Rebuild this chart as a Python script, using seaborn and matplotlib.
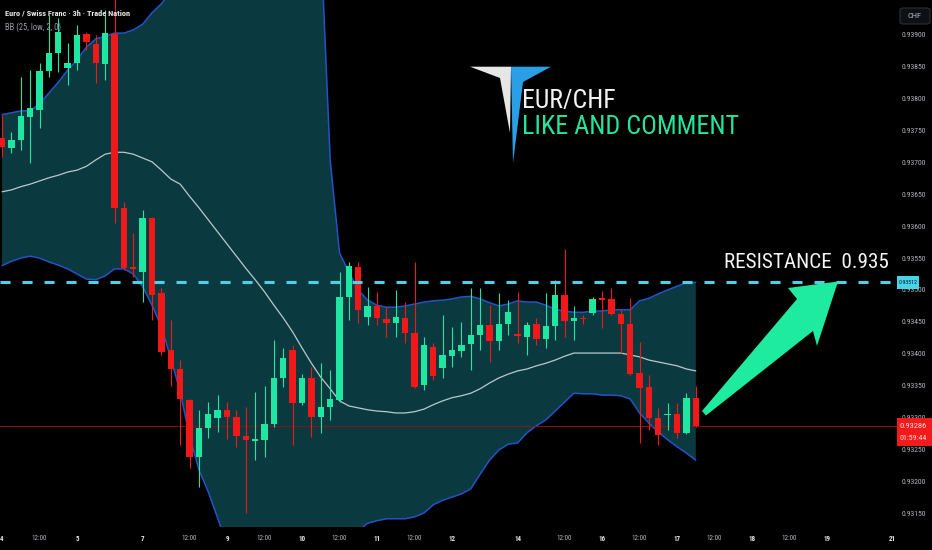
import numpy as np
import pandas as pd
import matplotlib
matplotlib.use("Agg")
import matplotlib.pyplot as plt
import seaborn as sns
from matplotlib import font_manager as fm
from matplotlib.patches import Polygon, Rectangle, FancyBboxPatch

# ---------------- data ----------------
opens = [0.93738, 0.93723, 0.93735, 0.93771, 0.93782, 0.93844, 0.93872, 0.93848, 0.93856, 0.93902,
         0.93886, 0.93855, 0.93902, 0.93629, 0.93536, 0.93528, 0.93613, 0.93495, 0.93406, 0.93376,
         0.93327, 0.93238, 0.93283, 0.93299, 0.93312, 0.93301, 0.93271, 0.93263, 0.93265, 0.93290,
         0.93362, 0.93406, 0.93323, 0.93362, 0.93301, 0.93316, 0.93327, 0.93489, 0.93536, 0.93458,
         0.93475, 0.93454, 0.93448, 0.93456, 0.93432, 0.93351, 0.93410, 0.93378, 0.93396, 0.93404,
         0.93415, 0.93429, 0.93445, 0.93420, 0.93447, 0.93431, 0.93426, 0.93447, 0.93423, 0.93443,
         0.93492, 0.93451, 0.93456, 0.93464, 0.93487, 0.93486, 0.93462, 0.93447, 0.93370, 0.93348,
         0.93299, 0.93304, 0.93305, 0.93276, 0.93330]
highs = [0.93774, 0.93748, 0.93834, 0.93845, 0.93856, 0.93931, 0.93927, 0.93887, 0.93916, 0.93905,
         0.93900, 0.93939, 0.93960, 0.93638, 0.93589, 0.93625, 0.93615, 0.93503, 0.93453, 0.93390,
         0.93329, 0.93312, 0.93324, 0.93335, 0.93324, 0.93312, 0.93316, 0.93340, 0.93349, 0.93421,
         0.93409, 0.93414, 0.93368, 0.93379, 0.93385, 0.93374, 0.93528, 0.93544, 0.93544, 0.93505,
         0.93497, 0.93473, 0.93500, 0.93481, 0.93544, 0.93426, 0.93417, 0.93461, 0.93442, 0.93450,
         0.93503, 0.93503, 0.93476, 0.93495, 0.93484, 0.93497, 0.93450, 0.93456, 0.93495, 0.93516,
         0.93564, 0.93475, 0.93461, 0.93489, 0.93498, 0.93503, 0.93469, 0.93487, 0.93418, 0.93367,
         0.93315, 0.93323, 0.93323, 0.93338, 0.93349]
lows = [0.93709, 0.93715, 0.93720, 0.93699, 0.93754, 0.93834, 0.93842, 0.93822, 0.93845, 0.93876,
        0.93825, 0.93829, 0.93605, 0.93531, 0.93520, 0.93481, 0.93453, 0.93398, 0.93349, 0.93257,
        0.93221, 0.93191, 0.93268, 0.93277, 0.93266, 0.93254, 0.93150, 0.93233, 0.93238, 0.93285,
        0.93348, 0.93257, 0.93320, 0.93269, 0.93276, 0.93296, 0.93324, 0.93453, 0.93448, 0.93445,
        0.93445, 0.93426, 0.93426, 0.93417, 0.93346, 0.93343, 0.93359, 0.93362, 0.93379, 0.93395,
        0.93374, 0.93406, 0.93387, 0.93406, 0.93429, 0.93417, 0.93398, 0.93414, 0.93409, 0.93421,
        0.93426, 0.93421, 0.93447, 0.93461, 0.93440, 0.93461, 0.93401, 0.93366, 0.93260, 0.93280,
        0.93257, 0.93280, 0.93268, 0.93274, 0.93285]
closes = [0.93724, 0.93735, 0.93773, 0.93785, 0.93844, 0.93872, 0.93905, 0.93856, 0.93900, 0.93889,
          0.93856, 0.93903, 0.93629, 0.93534, 0.93533, 0.93613, 0.93492, 0.93403, 0.93376, 0.93329,
          0.93238, 0.93283, 0.93305, 0.93312, 0.93301, 0.93271, 0.93265, 0.93266, 0.93290, 0.93362,
          0.93393, 0.93323, 0.93362, 0.93301, 0.93316, 0.93329, 0.93489, 0.93538, 0.93469, 0.93475,
          0.93456, 0.93448, 0.93458, 0.93432, 0.93348, 0.93414, 0.93365, 0.93398, 0.93406, 0.93414,
          0.93429, 0.93445, 0.93420, 0.93447, 0.93465, 0.93428, 0.93445, 0.93423, 0.93443, 0.93492,
          0.93451, 0.93456, 0.93454, 0.93486, 0.93484, 0.93462, 0.93447, 0.93368, 0.93346, 0.93299,
          0.93272, 0.93305, 0.93276, 0.93330, 0.93286]

bb_upper = [0.93775, 0.93778, 0.93781, 0.93781, 0.93792, 0.93809, 0.93826, 0.93845, 0.93861, 0.93881,
            0.93894, 0.93898, 0.93903, 0.93903, 0.93908, 0.93917, 0.93935, 0.93949, 0.93968, 0.94002,
            0.94033, 0.94065, 0.94096, 0.94128, 0.94151, 0.94175, 0.94190, 0.94206, 0.94214, 0.94214,
            0.94206, 0.94190, 0.94159, 0.94112, 0.94049, 0.93704, 0.93558, 0.93528, 0.93500, 0.93484,
            0.93476, 0.93473, 0.93473, 0.93475, 0.93478, 0.93481, 0.93483, 0.93484, 0.93486, 0.93489,
            0.93490, 0.93486, 0.93480, 0.93475, 0.93478, 0.93483, 0.93481, 0.93481, 0.93476, 0.93470,
            0.93467, 0.93465, 0.93465, 0.93467, 0.93467, 0.93469, 0.93469, 0.93469, 0.93483, 0.93487,
            0.93494, 0.93500, 0.93506, 0.93511, 0.93512]
bb_mid = [0.93654, 0.93657, 0.93662, 0.93666, 0.93671, 0.93676, 0.93680, 0.93685, 0.93688, 0.93694,
          0.93704, 0.93713, 0.93716, 0.93716, 0.93713, 0.93707, 0.93701, 0.93688, 0.93674, 0.93666,
          0.93647, 0.93629, 0.93610, 0.93591, 0.93572, 0.93553, 0.93534, 0.93516, 0.93497, 0.93476,
          0.93456, 0.93434, 0.93409, 0.93385, 0.93363, 0.93345, 0.93326, 0.93318, 0.93315, 0.93312,
          0.93310, 0.93309, 0.93307, 0.93307, 0.93309, 0.93313, 0.93320, 0.93326, 0.93331, 0.93334,
          0.93338, 0.93345, 0.93354, 0.93362, 0.93368, 0.93373, 0.93376, 0.93381, 0.93385, 0.93390,
          0.93396, 0.93401, 0.93401, 0.93401, 0.93401, 0.93401, 0.93401, 0.93398, 0.93395, 0.93390,
          0.93387, 0.93384, 0.93381, 0.93376, 0.93373]
bb_lower = [0.93538, 0.93545, 0.93550, 0.93553, 0.93550, 0.93544, 0.93539, 0.93533, 0.93525, 0.93517,
            0.93516, 0.93522, 0.93533, 0.93533, 0.93525, 0.93505, 0.93476, 0.93442, 0.93393, 0.93340,
            0.93271, 0.93218, 0.93183, 0.93142, 0.93100, 0.93076, 0.93053, 0.93037, 0.93029, 0.93021,
            0.93021, 0.93029, 0.93037, 0.93053, 0.93069, 0.93084, 0.93100, 0.93112, 0.93122, 0.93134,
            0.93138, 0.93141, 0.93141, 0.93141, 0.93144, 0.93150, 0.93163, 0.93170, 0.93175, 0.93180,
            0.93188, 0.93211, 0.93233, 0.93249, 0.93258, 0.93260, 0.93276, 0.93287, 0.93296, 0.93310,
            0.93324, 0.93338, 0.93337, 0.93337, 0.93335, 0.93335, 0.93334, 0.93329, 0.93307, 0.93291,
            0.93277, 0.93265, 0.93254, 0.93244, 0.93233]

tick_pos = [0, 4, 8, 15, 20, 24, 28, 32, 36, 40, 44, 48, 55, 60, 64, 68, 72, 76, 80, 84, 88, 95]
tick_labels = ["4", "12:00", "5", "7", "12:00", "9", "12:00", "10", "12:00", "11", "12:00", "12",
               "14", "12:00", "16", "12:00", "17", "12:00", "18", "12:00", "19", "21"]
price_ticks = [0.9315, 0.9320, 0.9325, 0.9330, 0.9335, 0.9340, 0.9345, 0.9350,
               0.9355, 0.9360, 0.9365, 0.9370, 0.9375, 0.9380, 0.9385, 0.9390]
resistance = 0.93512
last_price = 0.93286
countdown = "01:59:44"

# ---------------- style ----------------
GREEN = "#1fe6a0"
RED = "#f01818"
TEAL = "#0a3a3f"
BLUE = "#2452c8"
MID = "#b9c9cc"
CYAN = "#4ad2e8"

sns.set_theme(style="white", rc={"axes.facecolor": "black", "figure.facecolor": "black"})
available = {f.name for f in fm.fontManager.ttflist}
NARROW = "Liberation Sans"
for cand in ["Roboto Condensed", "Liberation Sans Narrow", "Open Sans Condensed", "Liberation Sans"]:
    if cand in available:
        NARROW = cand
        break
plt.rcParams["font.family"] = [NARROW, "DejaVu Sans"]

W, H = 932, 550
fig = plt.figure(figsize=(W / 100, H / 100), dpi=100, facecolor="black")
ax = fig.add_axes([0, 23 / H, 897 / W, 527 / H])
ax.set_facecolor("black")
renderer = fig.canvas.get_renderer()


def fx(x):
    return x / W


def fy(y):
    return 1 - y / H


def fit(t, target_w, max_size):
    t.set_fontsize(max_size)
    w = t.get_window_extent(renderer).width
    if w > target_w:
        t.set_fontsize(max_size * target_w / w)
    return t


def fit_size(sample, target_w, max_size, **kw):
    probe = fig.text(0, 0, sample, fontsize=max_size, **kw)
    w = probe.get_window_extent(renderer).width
    probe.remove()
    return max_size * min(1.0, target_w / w)


idx = np.arange(len(opens))
o = np.array(opens)
c = np.array(closes)
hi = np.array(highs)
lo = np.array(lows)

df = pd.DataFrame({"i": idx, "upper": bb_upper, "mid": bb_mid, "lower": bb_lower})

# Bollinger band fill + lines
ax.fill_between(df["i"], df["lower"], df["upper"], color=TEAL, lw=0, zorder=0)
sns.lineplot(data=df, x="i", y="upper", ax=ax, color=BLUE, lw=1.1, zorder=1, legend=False)
sns.lineplot(data=df, x="i", y="lower", ax=ax, color=BLUE, lw=1.1, zorder=1, legend=False)
sns.lineplot(data=df, x="i", y="mid", ax=ax, color=MID, lw=0.9, zorder=1, legend=False)

# current price line
ax.axhline(last_price, color="#8c1212", lw=0.7, zorder=2)

# candles
up = c >= o
cols = np.where(up, GREEN, RED)
ax.vlines(idx, lo, hi, colors=cols, lw=0.8, zorder=3)
body_bottom = np.minimum(o, c)
body_h = np.maximum(np.abs(c - o), 1.4e-5)
ax.bar(idx, body_h, bottom=body_bottom, width=0.68, color=cols, lw=0, zorder=4)

# resistance dashed line
ax.axhline(resistance, color=CYAN, lw=2.2, ls=(0, (3.3, 3.9)), zorder=5)

ax.set_xlim(-0.219, 95.46)
ax.set_ylim(0.931281, 0.939549)
ax.set_xlabel("")
ax.set_ylabel("")
ax.grid(False)
for s in ax.spines.values():
    s.set_visible(False)

ysize = fit_size("0.93900", 25, 6.4)
xsize = fit_size("12:00", 15.5, 6.2)
ax.yaxis.tick_right()
ax.set_yticks(price_ticks)
ax.set_yticklabels([f"{v:.5f}" for v in price_ticks])
ax.tick_params(axis="y", length=0, pad=3.0, labelsize=ysize, labelcolor="#b2b5be")
ax.set_xticks(tick_pos)
ax.set_xticklabels(tick_labels)
ax.tick_params(axis="x", length=0, pad=5.5, labelsize=xsize, labelcolor="#b2b5be")
for t in ax.get_xticklabels():
    if ":" not in t.get_text():
        t.set_fontweight("bold")
        t.set_color("#e6e8ee")

# ---------------- annotations ----------------
fit(fig.text(fx(5), fy(13.5), "Euro / Swiss Franc \u00b7 3h \u00b7 Trade Nation", color="#e8e8e8",
             fontweight="bold", ha="left", va="center"), 127, 7.2)
fit(fig.text(fx(5), fy(27.5), "BB (25, low, 2, 0)", color="#9a9da6",
             ha="left", va="center"), 56, 7.2)

# logo
fig.add_artist(Polygon([(fx(470), fy(66.7)), (fx(511), fy(66.7)), (fx(510), fy(133)), (fx(500), fy(78))],
                       closed=True, transform=fig.transFigure, facecolor="#e6e6e6", lw=0, zorder=6))
fig.add_artist(Polygon([(fx(511), fy(66.7)), (fx(551), fy(66.7)), (fx(523), fy(82)), (fx(513), fy(163))],
                       closed=True, transform=fig.transFigure, facecolor="#2a9fe6", lw=0, zorder=6))
fit(fig.text(fx(522), fy(107.7), "EUR/CHF", color="#f2f2f2", ha="left", va="baseline", zorder=7),
    94, 18.5)
fit(fig.text(fx(522), fy(134.3), "LIKE AND COMMENT", color="#25e59b", ha="left",
             va="baseline", zorder=7), 215, 19.4)

# resistance label
fit(fig.text(fx(806), fy(267.5), "RESISTANCE  0.935", color="#f5f5f5", ha="center",
             va="baseline", zorder=7), 164, 17.8)

# arrow
fig.add_artist(Polygon([(fx(702), fy(411)), (fx(797), fy(299)), (fx(788), fy(288)), (fx(838), fy(281.5)),
                        (fx(817), fy(346)), (fx(813), fy(331)), (fx(706), fy(415.5))],
                       closed=True, transform=fig.transFigure, facecolor="#1eeaa0", lw=0, zorder=6))

# price scale boxes
fig.add_artist(Rectangle((fx(897), fy(289)), 22 / W, 13 / H, transform=fig.transFigure,
                         facecolor=CYAN, lw=0, zorder=8))
fit(fig.text(fx(908), fy(282.5), f"{resistance:.5f}", color="#0b1a20", ha="center",
             va="center", zorder=9), 19, 5.8)
fig.add_artist(Rectangle((fx(897), fy(446)), 35 / W, 28 / H, transform=fig.transFigure,
                         facecolor="#f21a1a", lw=0, zorder=8))
fit(fig.text(fx(913.5), fy(425.5), f"{last_price:.5f}", color="#ffe0e0", ha="center",
             va="center", zorder=9), 27, 6.2)
fit(fig.text(fx(913.5), fy(438.5), countdown, color="#ffe0e0", ha="center", va="center", zorder=9),
    27, 6.2)
fig.add_artist(FancyBboxPatch((fx(900), fy(24)), 30 / W, 16 / H, boxstyle="round,pad=0,rounding_size=0.004",
                              transform=fig.transFigure, facecolor="#0e1015", edgecolor="#2a2e39",
                              lw=0.8, zorder=8))
fit(fig.text(fx(915), fy(16), "CHF", color="#b2b5be", ha="center", va="center", zorder=9), 14, 6.2)

fig.savefig("out.png", dpi=100, facecolor="black")
